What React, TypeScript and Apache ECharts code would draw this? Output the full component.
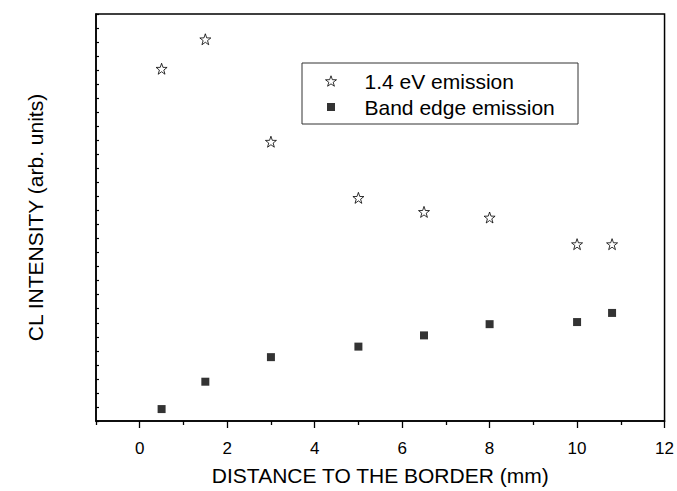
import React, { useEffect, useRef } from "react";
import * as echarts from "echarts";

const xValues = [0.5, 1.5, 3, 5, 6.5, 8, 10, 10.8];
const emission14 = [25.1, 27.2, 19.9, 15.9, 14.9, 14.5, 12.6, 12.6];
const bandEdge = [0.85, 2.8, 4.55, 5.3, 6.1, 6.9, 7.05, 7.7];
const xTickLabels = [0, 2, 4, 6, 8, 10, 12];
const xMinorTicks = [-1, 1, 3, 5, 7, 9, 11];
const seriesNames = ["1.4 eV emission", "Band edge emission"];

const FONT = "'Liberation Sans', Arial, sans-serif";
const starPath =
  "path://M0 -10 L2.351 -3.236 L9.511 -3.09 L3.804 1.236 L5.878 8.09 L0 4 L-5.878 8.09 L-3.804 1.236 L-9.511 -3.09 L-2.351 -3.236 Z";
const squarePath = "path://M-5.5 -5.5 M5.5 5.5 M-4 -4 L4 -4 L4 4 L-4 4 Z";

export default function App() {
  const ref = useRef<HTMLDivElement>(null);
  useEffect(() => {
    if (!ref.current) return;
    document.body.style.margin = "0";
    const chart = echarts.init(ref.current, null, { renderer: "svg" });
    const starStyle = { color: "#fff", borderColor: "#000", borderWidth: 1 };
    const squareStyle = { color: "#000", borderWidth: 0 };
    chart.setOption({
      animation: false,
      backgroundColor: "#fff",
      textStyle: { fontFamily: FONT, color: "#000" },
      grid: {
        left: 96,
        top: 14,
        right: 9,
        bottom: 63,
        show: true,
        borderColor: "#000",
        borderWidth: 1.5,
      },
      legend: {
        orient: "vertical",
        left: 325,
        top: 68,
        padding: 0,
        itemGap: 0,
        itemWidth: 11,
        itemHeight: 11,
        textStyle: {
          fontFamily: FONT,
          fontSize: 21,
          color: "#000",
          lineHeight: 26,
          padding: [0, 0, 0, 23],
        },
        data: [
          { name: seriesNames[0], icon: starPath, itemStyle: starStyle },
          { name: seriesNames[1], icon: squarePath, itemStyle: squareStyle },
        ],
      },
      graphic: [
        {
          type: "rect",
          shape: { x: 302, y: 63, width: 276, height: 61 },
          style: { fill: "none", stroke: "#333", lineWidth: 1 },
          z: 10,
        },
      ],
      xAxis: [
        {
          type: "value",
          min: -1,
          max: 12,
          name: "DISTANCE TO THE BORDER (mm)",
          nameLocation: "middle",
          nameGap: 44,
          nameTextStyle: { fontFamily: FONT, fontSize: 21, color: "#000" },
          axisLine: { show: true, onZero: false, lineStyle: { color: "#000", width: 1.5 } },
          axisTick: {
            show: true,
            inside: false,
            length: 7,
            customValues: xTickLabels,
            lineStyle: { color: "#000", width: 1.3 },
          },
          axisLabel: {
            show: true,
            margin: 19,
            fontFamily: FONT,
            fontSize: 17,
            color: "#000",
            customValues: xTickLabels,
          },
          splitLine: { show: false },
        },
        {
          type: "value",
          position: "bottom",
          min: -1,
          max: 12,
          axisLine: { show: false },
          axisTick: {
            show: true,
            inside: false,
            length: 4,
            customValues: xMinorTicks,
            lineStyle: { color: "#000", width: 1.3 },
          },
          axisLabel: { show: false },
          splitLine: { show: false },
        },
      ],
      yAxis: {
        type: "value",
        min: 0,
        max: 29,
        interval: 1,
        name: "CL INTENSITY (arb. units)",
        nameLocation: "middle",
        nameGap: 50,
        nameRotate: 90,
        nameTextStyle: { fontFamily: FONT, fontSize: 21, color: "#000" },
        axisLine: { show: true, onZero: false, lineStyle: { color: "#000", width: 1.5 } },
        axisTick: { show: true, inside: true, length: 3, lineStyle: { color: "#000", width: 1.2 } },
        axisLabel: { show: false },
        splitLine: { show: false },
      },
      series: [
        {
          name: seriesNames[0],
          type: "scatter",
          symbol: starPath,
          symbolSize: 11,
          itemStyle: starStyle,
          data: xValues.map((x, i) => [x, emission14[i]]),
        },
        {
          name: seriesNames[1],
          type: "scatter",
          symbol: squarePath,
          symbolSize: 11,
          itemStyle: squareStyle,
          data: xValues.map((x, i) => [x, bandEdge[i]]),
        },
      ],
    });
    return () => chart.dispose();
  }, []);
  return <div ref={ref} style={{ width: 677, height: 491 }} />;
}
